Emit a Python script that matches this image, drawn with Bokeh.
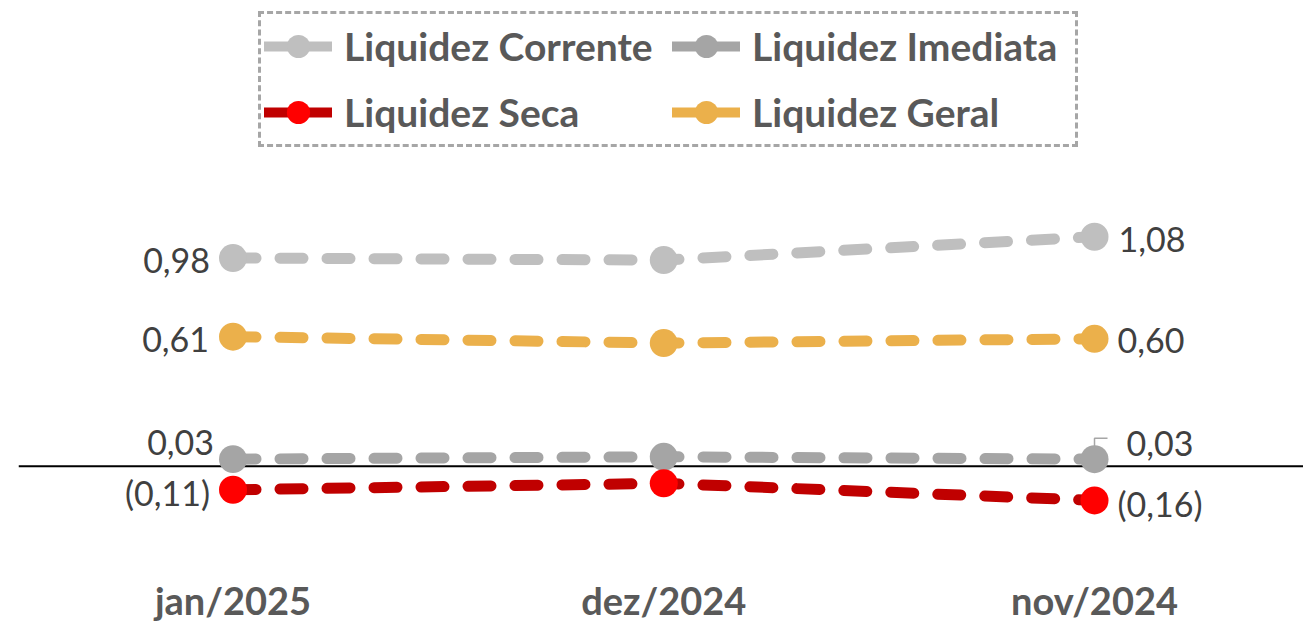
from bokeh.plotting import figure
from bokeh.models import ColumnDataSource, Range1d, FixedTicker, Span, Legend, LegendItem
from bokeh.core.properties import value
from bokeh.embed import file_html
from bokeh.resources import INLINE

# ---- data ----
categories = ["jan/2025", "dez/2024", "nov/2024"]
liq_corrente = [0.98, 0.97, 1.08]
liq_imediata = [0.034, 0.045, 0.034]
liq_seca = [-0.11, -0.08, -0.16]
liq_geral = [0.61, 0.58, 0.60]

series_names = ["Liquidez Corrente", "Liquidez Imediata", "Liquidez Seca", "Liquidez Geral"]
series_values = [liq_corrente, liq_imediata, liq_seca, liq_geral]
line_colors = ["#BFBFBF", "#A5A5A5", "#C00000", "#EBB04B"]
marker_colors = ["#BFBFBF", "#A5A5A5", "#FF0000", "#EBB04B"]

W, H = 1303, 625
FRAME_W, FRAME_H = 1285, 555
X0 = -0.498
X1 = X0 + FRAME_W / 430.75
Y1 = 466.7 / 213.0
Y0 = Y1 - FRAME_H / 213.0
PX_X = FRAME_W / (X1 - X0)
PX_Y = FRAME_H / (Y1 - Y0)

p = figure(width=W, height=H, output_backend="svg", toolbar_location=None,
           x_range=Range1d(X0, X1), y_range=Range1d(Y0, Y1),
           y_axis_location=None,
           min_border=0, min_border_left=18, min_border_right=0,
           min_border_top=0, min_border_bottom=70)
p.outline_line_color = None
p.xgrid.visible = False
p.ygrid.visible = False
p.background_fill_color = "white"

ax = p.xaxis[0]
ax.ticker = FixedTicker(ticks=list(range(len(categories))))
ax.major_label_overrides = {i: c for i, c in enumerate(categories)}
ax.axis_line_color = None
ax.major_tick_line_color = None
ax.minor_tick_line_color = None
ax.major_tick_in = 0
ax.major_tick_out = 0
ax.major_label_standoff = 22
ax.major_label_text_font = "Lato"
ax.major_label_text_font_style = "bold"
ax.major_label_text_font_size = "38px"
ax.major_label_text_color = "#595959"

p.add_layout(Span(location=0, dimension="width", line_color="black",
                  line_width=2, level="underlay"))

x = list(range(len(categories)))
src = ColumnDataSource(dict(x=x, corrente=liq_corrente, imediata=liq_imediata,
                            seca=liq_seca, geral=liq_geral))
fields = ["corrente", "imediata", "seca", "geral"]


def fmt(v):
    s = f"{abs(v):.2f}".replace(".", ",")
    return f"({s})" if v < 0 else s


# label offsets (screen px): (left dx, left dy, right dx, right dy)
label_offsets = [(-23, 3, 24, 3), (-19, -17, 32, -16), (-23, 3, 23, 3), (-24, 3, 23, 2)]

# leader line for the right Imediata label
vi = liq_imediata[2]
p.line(x=[2, 2, 2 + 13 / PX_X], y=[vi + 10 / PX_Y, vi + 21 / PX_Y, vi + 21 / PX_Y],
       line_color="#A6A6A6", line_width=1.5)

items = []
for name, f, vals, lc, mc, offs in zip(series_names, fields, series_values,
                                        line_colors, marker_colors, label_offsets):
    p.line("x", f, source=src, line_color=lc, line_width=11,
           line_dash="23 24", line_cap="round")
    r_pt = p.scatter("x", f, source=src, size=28, fill_color=mc, line_color=None)
    r_leg = p.line(x=[float("nan")], y=[float("nan")], line_color=lc,
                   line_width=10, line_cap="round")
    items.append(LegendItem(label=name, renderers=[r_leg, r_pt]))
    ldx, ldy, rdx, rdy = offs
    p.text(x=[x[0]], y=[vals[0]], text=[fmt(vals[0])], text_align="right",
           text_baseline="middle", x_offset=ldx, y_offset=ldy,
           text_font=value("Lato"), text_font_size="34px", text_color="#404040")
    p.text(x=[x[-1]], y=[vals[-1]], text=[fmt(vals[-1])], text_align="left",
           text_baseline="middle", x_offset=rdx, y_offset=rdy,
           text_font=value("Lato"), text_font_size="34px", text_color="#404040")

legend = Legend(items=items, location=(240, FRAME_H - 148), orientation="horizontal",
                ncols=2, glyph_width=68, glyph_height=58, label_standoff=12,
                label_width=320, spacing=8, padding=3, margin=0,
                label_text_font="Lato", label_text_font_style="bold",
                label_text_font_size="39px", label_text_color="#595959",
                border_line_color="#A6A6A6", border_line_width=3,
                border_line_alpha=1.0,
                border_line_dash="10 5", background_fill_color="white",
                background_fill_alpha=1)
p.add_layout(legend)

open("out.html", "w").write(file_html(p, INLINE))
